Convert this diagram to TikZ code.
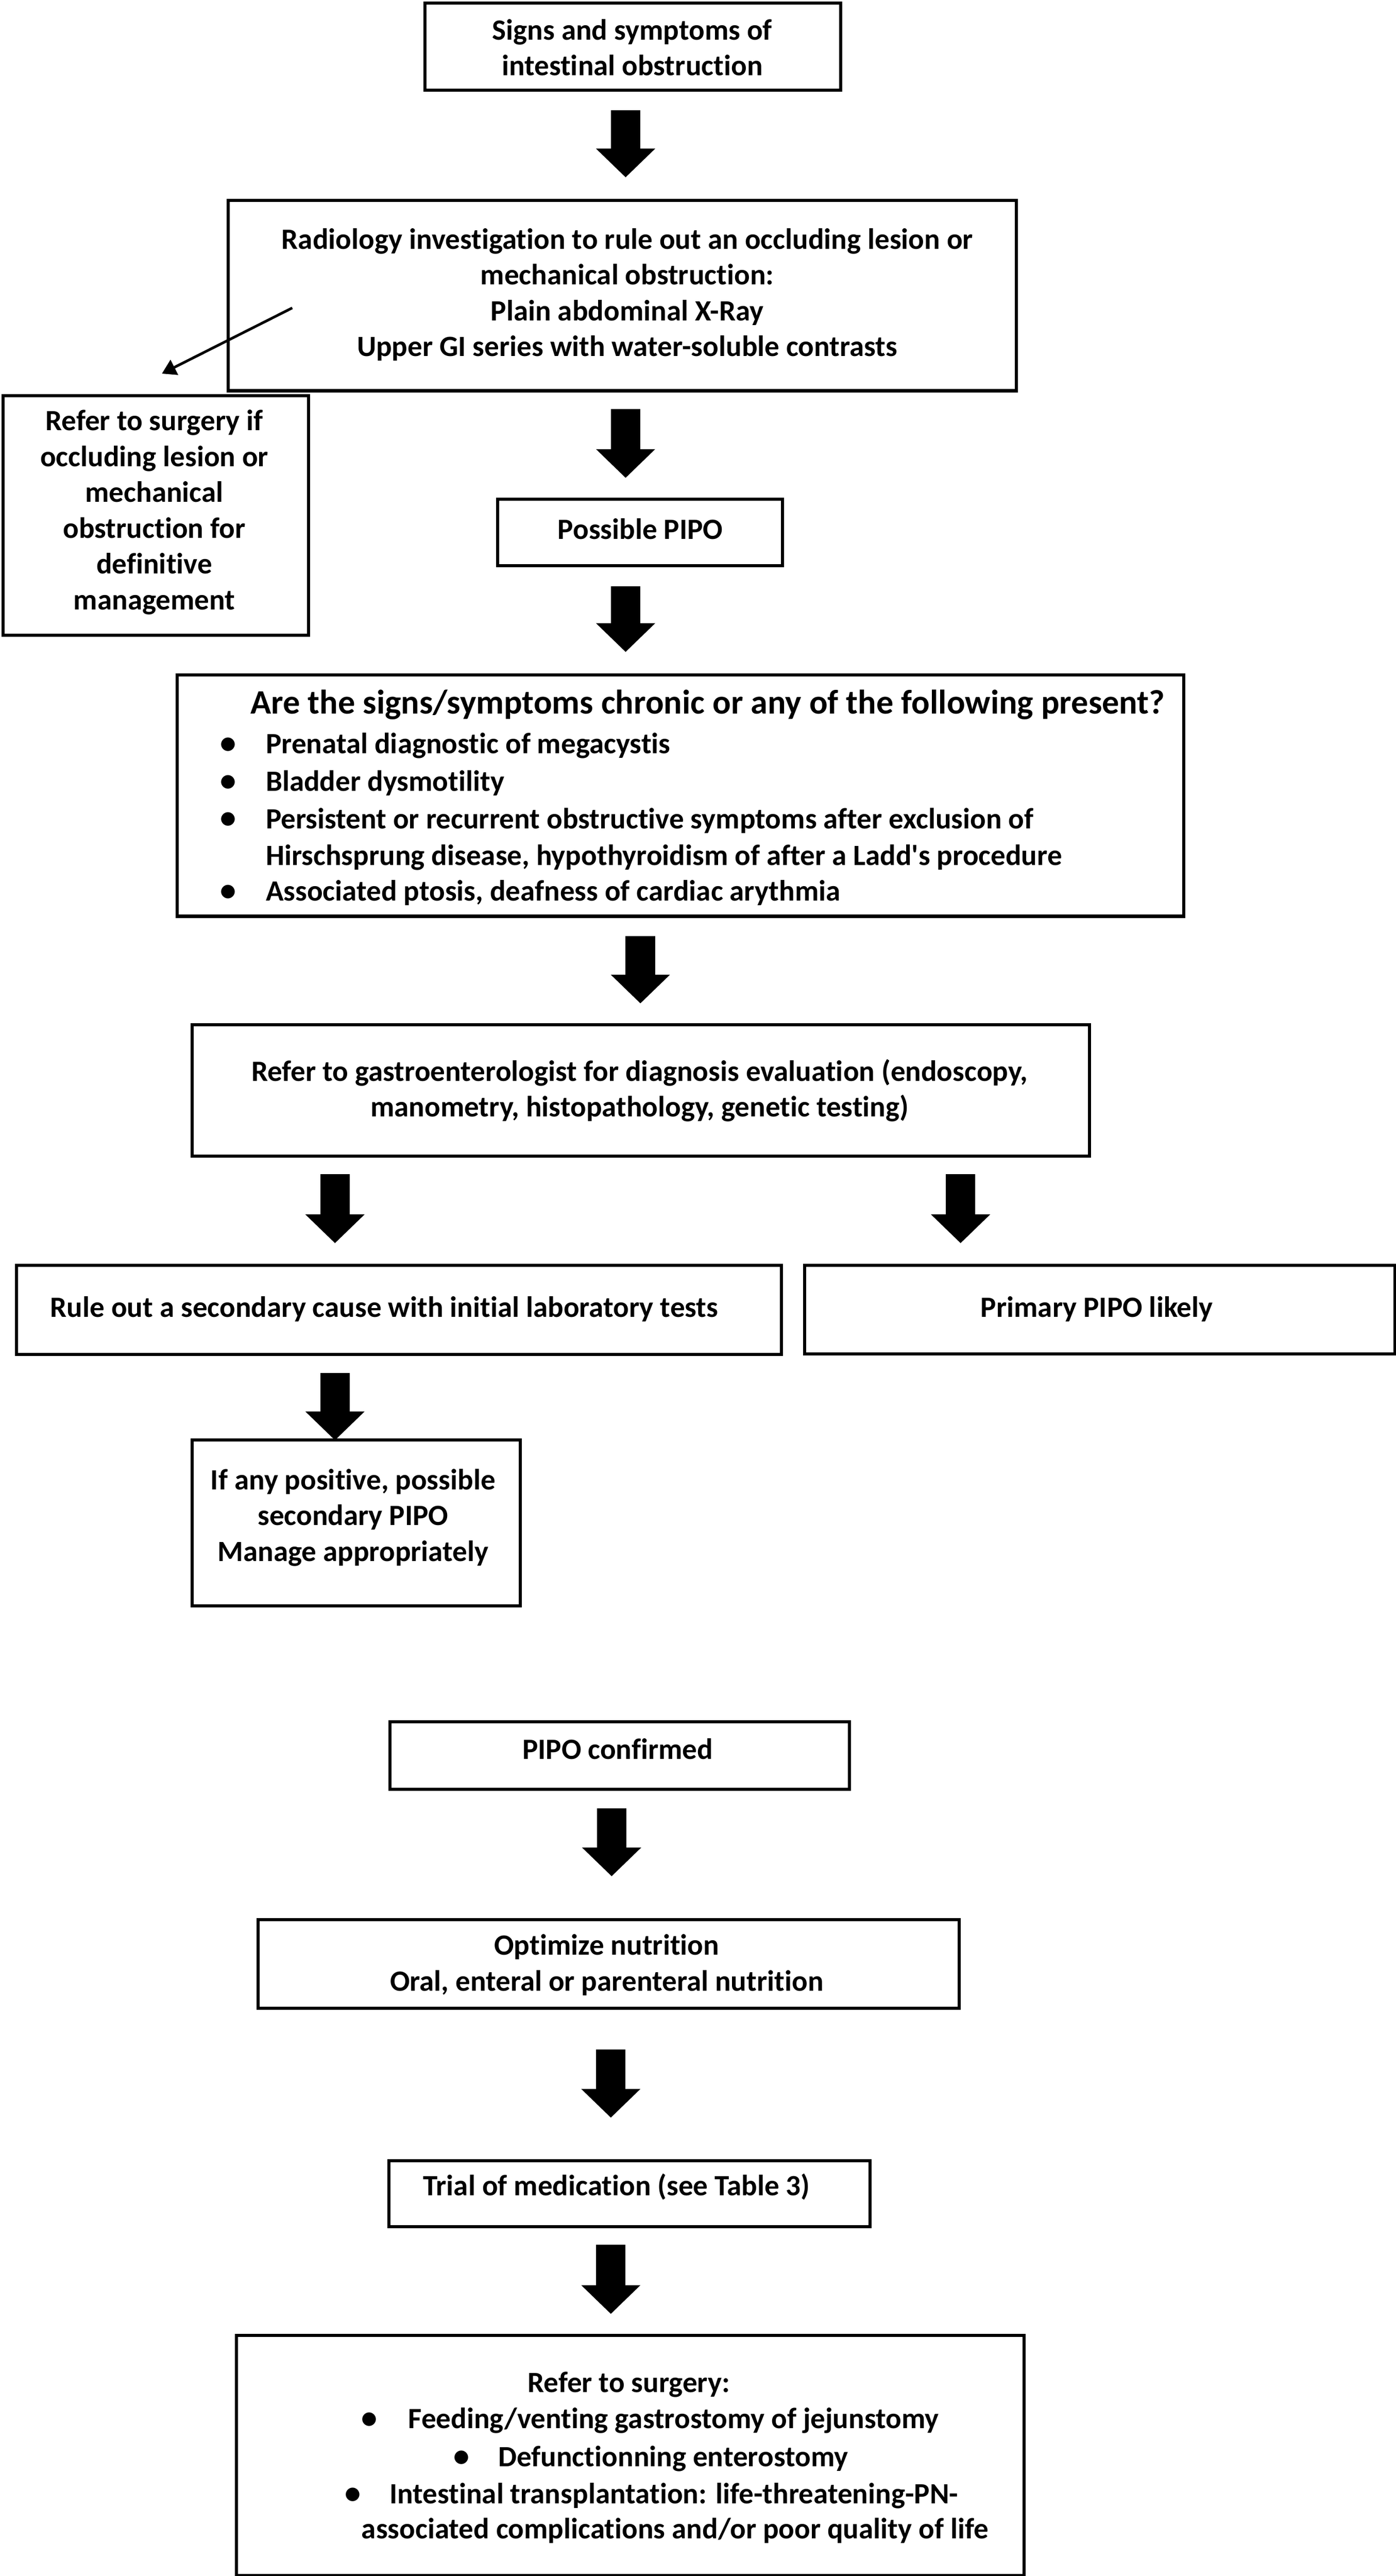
\documentclass[tikz,border=0pt]{standalone}
\usepackage{fontspec}
\setmainfont{Carlito}[Ligatures={TeX,NoCommon}]
\usetikzlibrary{arrows.meta}
\begin{document}
\begin{tikzpicture}[x=1pt,y=-1pt,
  box/.style={draw=black, line width=1.9pt, inner sep=0pt, anchor=north west},
  txt/.style={inner sep=0pt, align=center, font=\fontsize{17.9}{21.8}\selectfont\bfseries},
  ltxt/.style={inner sep=0pt, anchor=west, font=\fontsize{17.9}{21.8}\selectfont\bfseries},
  htxt/.style={inner sep=0pt, anchor=west, font=\fontsize{20.8}{25}\selectfont\bfseries},
  bul/.style={inner sep=0pt, font=\fontsize{19.5}{21.8}\selectfont\bfseries},
  bigarrow/.style={line width=18pt, -{Triangle[width=35pt,length=17.5pt]}},
  thinarrow/.style={line width=1.6pt, -{Triangle[width=10pt,length=8.5pt]}},
]
\useasboundingbox (0,0) rectangle (850,1568.6);
\fill[white] (0,0) rectangle (850,1568.6);

% boxes
\node[box, minimum width=253pt, minimum height=53pt] (signs) at (258,1) {};
\node[box, minimum width=480pt, minimum height=116pt] (radio) at (138,121) {};
\node[box, minimum width=186pt, minimum height=146pt] (refer) at (1,240) {};
\node[box, minimum width=173.5pt, minimum height=40.5pt] (possible) at (302,303) {};
\node[box, minimum width=613pt, minimum height=147pt] (chronic) at (107,410) {};
\node[box, minimum width=546.5pt, minimum height=80pt] (gastro) at (116,623) {};
\node[box, minimum width=466pt, minimum height=54.3pt] (ruleout) at (9,769.4) {};
\node[box, minimum width=359.5pt, minimum height=54pt] (primary) at (489,769.4) {};
\node[box, minimum width=200pt, minimum height=101pt] (ifany) at (116,876) {};
\node[box, minimum width=280pt, minimum height=41pt] (confirmed) at (236.4,1047.6) {};
\node[box, minimum width=427pt, minimum height=54pt] (optimize) at (156.2,1168) {};
\node[box, minimum width=293.2pt, minimum height=40.3pt] (trial) at (235.8,1314.7) {};
\node[box, minimum width=479.6pt, minimum height=146.3pt] (surgery) at (143,1421) {};

% texts
\node[txt] (t1) at (385,29) {Signs and symptoms of\\intestinal obstruction};
\node[txt] (t2) at (382,179.5) {Radiology investigation to rule out an occluding lesion or\\mechanical obstruction:\\Plain abdominal X-Ray\\Upper GI series with water-soluble contrasts};
\node[txt] (t3) at (94,312) {Refer to surgery if\\occluding lesion or\\mechanical\\obstruction for\\definitive\\management};
\node[txt] (t4) at (390,322) {Possible PIPO};
\node[htxt] (t5) at (152.4,429) {Are the signs/symptoms chronic or any of the following present?};
\node[bul] (cb1) at (139,454) {\textbullet};
\node[bul] (cb2) at (139,476.8) {\textbullet};
\node[bul] (cb3) at (139,499.6) {\textbullet};
\node[bul] (cb4) at (139,543.6) {\textbullet};
\node[ltxt] (cl1) at (161.7,454) {Prenatal diagnostic of megacystis};
\node[ltxt] (cl2) at (161.7,476.8) {Bladder dysmotility};
\node[ltxt] (cl3) at (161.7,499.6) {Persistent or recurrent obstructive symptoms after exclusion of};
\node[ltxt] (cl4) at (161.7,522) {Hirschsprung disease, hypothyroidism of after a Ladd\textquotesingle s procedure};
\node[ltxt] (cl5) at (161.7,543.6) {Associated ptosis, deafness of cardiac arythmia};
\node[txt] (t6) at (389.5,664) {Refer to gastroenterologist for diagnosis evaluation (endoscopy,\\manometry, histopathology, genetic testing)};
\node[txt] (t7) at (234,797) {Rule out a secondary cause with initial laboratory tests};
\node[txt] (t8) at (668,797) {Primary PIPO likely};
\node[txt] (t9) at (215,924) {If any positive, possible\\secondary PIPO\\Manage appropriately};
\node[txt] (t10) at (376.2,1065) {PIPO confirmed};
\node[txt] (t11) at (369.5,1196.5) {Optimize nutrition\\Oral, enteral or parenteral nutrition};
\node[txt] (t12) at (375.5,1331.7) {Trial of medication (see Table 3)};
\node[txt] (t13) at (383,1452) {Refer to surgery:};
\node[bul] (sb1) at (225,1474) {\textbullet};
\node[bul] (sb2) at (281,1497) {\textbullet};
\node[bul] (sb3) at (214.8,1519.7) {\textbullet};
\node[ltxt] (sl1) at (248.5,1474) {Feeding/venting gastrostomy of jejunstomy};
\node[ltxt] (sl2) at (303.3,1497) {Defunctionning enterostomy};
\node[ltxt] (sl3) at (237,1519.7) {Intestinal transplantation: life-threatening-PN-};
\node[ltxt] (sl4) at (220,1541) {associated complications and/or poor quality of life};

% arrow end points
\coordinate (a1s) at (381,67);    \coordinate (a1e) at (381,108);
\coordinate (a2s) at (381,249);   \coordinate (a2e) at (381,291);
\coordinate (a3s) at (381,357);   \coordinate (a3e) at (381,397);
\coordinate (a4s) at (390,570);   \coordinate (a4e) at (390,611);
\coordinate (a5s) at (204,715);   \coordinate (a5e) at (204,757);
\coordinate (a6s) at (585,715);   \coordinate (a6e) at (585,757);
\coordinate (a7s) at (204,836);   \coordinate (a7e) at (204,877);
\coordinate (a8s) at (372.5,1101);\coordinate (a8e) at (372.5,1142.5);
\coordinate (a9s) at (372,1248);  \coordinate (a9e) at (372,1289.5);
\coordinate (a10s) at (372,1367); \coordinate (a10e) at (372,1409);
\coordinate (ths) at (178,187.5); \coordinate (the) at (98.6,227.5);

\draw[bigarrow] (a1s) -- (a1e);
\draw[bigarrow] (a2s) -- (a2e);
\draw[bigarrow] (a3s) -- (a3e);
\draw[bigarrow] (a4s) -- (a4e);
\draw[bigarrow] (a5s) -- (a5e);
\draw[bigarrow] (a6s) -- (a6e);
\draw[bigarrow] (a7s) -- (a7e);
\draw[bigarrow] (a8s) -- (a8e);
\draw[bigarrow] (a9s) -- (a9e);
\draw[bigarrow] (a10s) -- (a10e);
\draw[thinarrow] (ths) -- (the);
\end{tikzpicture}
\end{document}
